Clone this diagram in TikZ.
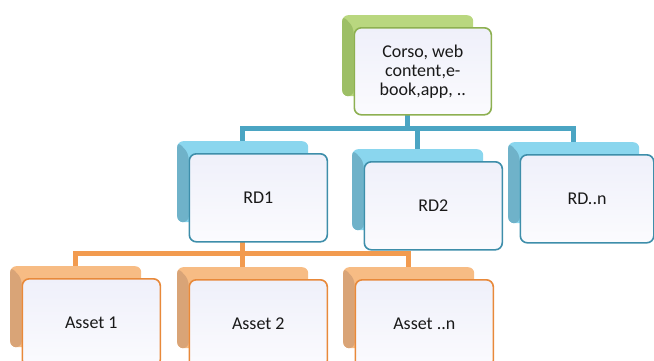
\documentclass[tikz,border=0pt]{standalone}
\usepackage{fontspec}
\setmainfont{Carlito}
\usetikzlibrary{positioning}

\definecolor{greenline}{HTML}{8DB051}
\definecolor{greenback}{HTML}{B9D77F}
\definecolor{greenside}{HTML}{9DBF66}
\definecolor{blueline}{HTML}{3E8EAA}
\definecolor{blueback}{HTML}{8AD6EE}
\definecolor{blueside}{HTML}{6FB2C9}
\definecolor{bluelink}{HTML}{4BA5C3}
\definecolor{orangeline}{HTML}{E8893A}
\definecolor{orangeback}{HTML}{F7BC84}
\definecolor{orangeside}{HTML}{D9A477}
\definecolor{orangelink}{HTML}{F29B4F}
\definecolor{cardtop}{HTML}{EFF0FA}
\definecolor{cardbot}{HTML}{FBFBFE}

\begin{document}
\begin{tikzpicture}[x=1pt, y=-1pt,
    every node/.style={inner sep=0pt, font=\fontsize{18}{19}\selectfont, text=black!90},
    card/.style={draw, line width=1.6pt, rounded corners=7pt, minimum width=138pt, minimum height=88pt, align=center, top color=cardtop, bottom color=cardbot},
    backcard/.style={anchor=north west, rounded corners=6pt, minimum width=131pt, minimum height=81pt, fill=#1},
    bevel/.style={path picture={\fill[#1] (path picture bounding box.north west) -- ([xshift=11.5pt,yshift=-12pt]path picture bounding box.north west) -- ([xshift=11.5pt]path picture bounding box.south west) -- (path picture bounding box.south west) -- cycle;}},
    over/.style={anchor=north west, at={([xshift=11.5pt,yshift=-12pt]#1.north west)}},
    link/.style={line width=4.5pt}]
    \useasboundingbox (0,0) rectangle (654,360);

    % Back plates
    \node[backcard=greenback, bevel=greenside] (courseback) at (342,15) {};
    \node[backcard=blueback, bevel=blueside] (rd1back) at (177,141) {};
    \node[backcard=blueback, bevel=blueside] (rd2back) at (352,149) {};
    \node[backcard=blueback, bevel=blueside] (rdnback) at (508,142) {};
    \node[backcard=orangeback, bevel=orangeside] (asset1back) at (10,266) {};
    \node[backcard=orangeback, bevel=orangeside] (asset2back) at (177,267) {};
    \node[backcard=orangeback, bevel=orangeside] (assetnback) at (343,267) {};

    % Edges: course to RD
    \draw[link, bluelink] (courseback.south) -- ++(0,32) coordinate (rdhub);
    \draw[link, bluelink] (rdhub) -| (rd1back.north);
    \draw[link, bluelink] (rdhub) -| (rd2back.north);
    \draw[link, bluelink] (rdhub) -| (rdnback.north);
    % Edges: RD1 to assets
    \draw[link, orangelink] (rd1back.south) -- ++(0,31) coordinate (assethub);
    \draw[link, orangelink] (assethub) -| (asset1back.north);
    \draw[link, orangelink] (assethub) -| (asset2back.north);
    \draw[link, orangelink] (assethub) -| (assetnback.north);

    % Front cards
    \node[card, draw=greenline, over=courseback, minimum width=137pt, minimum height=87pt] (course) {Corso, web\\content,e-\\book,app, ..};
    \node[card, draw=blueline, over=rd1back] (rd1) {RD1};
    \node[card, draw=blueline, over=rd2back] (rd2) {RD2};
    \node[card, draw=blueline, over=rdnback, minimum width=133.5pt] (rdn) {RD..n};
    \node[card, draw=orangeline, over=asset1back] (asset1) {Asset 1};
    \node[card, draw=orangeline, over=asset2back] (asset2) {Asset 2};
    \node[card, draw=orangeline, over=assetnback] (assetn) {Asset ..n};
\end{tikzpicture}
\end{document}
